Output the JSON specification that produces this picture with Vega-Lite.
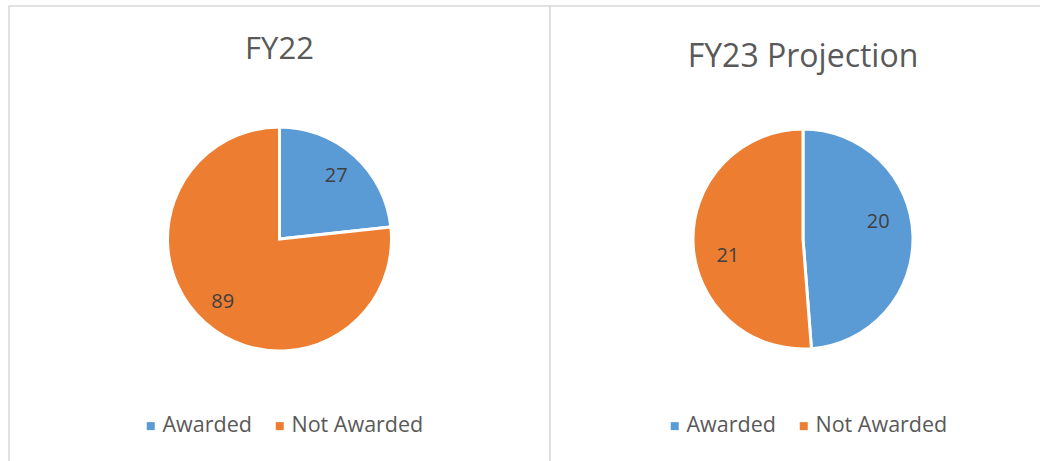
{
  "$schema": "https://vega.github.io/schema/vega-lite/v6.json",
  "padding": {"left": 8, "top": 5, "right": 0, "bottom": 0},
  "spacing": 0,
  "bounds": "flush",
  "background": "white",
  "datasets": {
    "fy22": [{"status": "Awarded", "count": 27}, {"status": "Not Awarded", "count": 89}],
    "fy23": [{"status": "Awarded", "count": 20}, {"status": "Not Awarded", "count": 21}]
  },
  "config": {
    "view": {"stroke": "#d9d9d9", "strokeWidth": 1.5},
    "font": "Open Sans",
    "title": {"fontSize": 31, "fontWeight": "normal", "color": "#595959", "font": "Open Sans", "anchor": "middle", "frame": "group"},
    "legend": {"labelFontSize": 21.5, "labelColor": "#595959", "labelFont": "Open Sans", "symbolType": "square", "symbolSize": 64, "symbolStrokeWidth": 0, "columnPadding": 17, "labelOffset": 1}
  },
  "resolve": {"legend": {"color": "independent"}},
  "hconcat": [
    {
      "width": 541,
      "height": 466,
      "view": {"stroke": "#d9d9d9", "strokeWidth": 1.5, "fill": "white"},
      "title": {"text": "FY22", "offset": -60},
      "data": {"name": "fy22"},
      "encoding": {
        "theta": {"field": "count", "type": "quantitative", "stack": true},
        "color": {"field": "status", "type": "nominal", "scale": {"domain": ["Awarded", "Not Awarded"], "range": ["#5B9BD5", "#ED7D31"]},
          "legend": {"title": null, "orient": "none", "direction": "horizontal", "legendX": 131, "legendY": 409}}
      },
      "layer": [
        {"mark": {"type": "arc", "outerRadius": 112, "stroke": "white", "strokeWidth": 3}},
        {"mark": {"type": "text", "radius": 85, "fontSize": 20, "color": "#404040", "font": "Open Sans"},
         "encoding": {"text": {"field": "count", "type": "quantitative"}, "color": {"value": "#404040"}}}
      ]
    },
    {
      "width": 506,
      "height": 466,
      "view": {"stroke": "#d9d9d9", "strokeWidth": 1.5, "fill": "white"},
      "title": {"text": "FY23 Projection", "offset": -68, "fontSize": 32},
      "data": {"name": "fy23"},
      "encoding": {
        "theta": {"field": "count", "type": "quantitative", "stack": true},
        "color": {"field": "status", "type": "nominal", "scale": {"domain": ["Awarded", "Not Awarded"], "range": ["#5B9BD5", "#ED7D31"]},
          "legend": {"title": null, "orient": "none", "direction": "horizontal", "legendX": 114, "legendY": 409}}
      },
      "layer": [
        {"mark": {"type": "arc", "outerRadius": 110, "stroke": "white", "strokeWidth": 3}},
        {"mark": {"type": "text", "radius": 77, "thetaOffset": -0.18, "fontSize": 20, "color": "#404040", "font": "Open Sans"},
         "encoding": {"text": {"field": "count", "type": "quantitative"}, "color": {"value": "#404040"}}}
      ]
    }
  ]
}
